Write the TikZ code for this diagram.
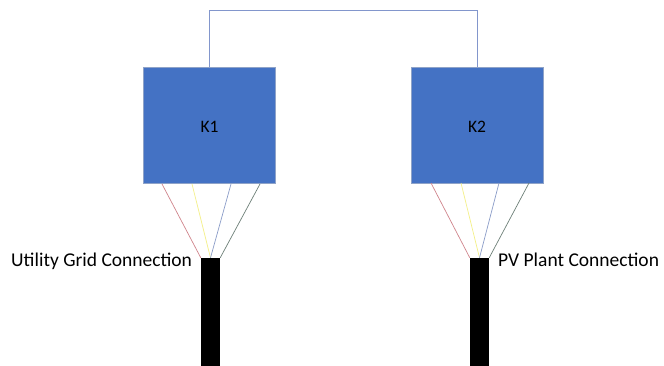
\documentclass[tikz,border=0pt]{standalone}
\usepackage{fontspec}
\setmainfont{Carlito}
\definecolor{boxfill}{HTML}{4472C4}
\definecolor{boxedge}{HTML}{8FA3C8}
\definecolor{linkblue}{HTML}{8296CC}
\definecolor{wred}{HTML}{D0858C}
\definecolor{wyellow}{HTML}{F4F088}
\definecolor{wblue}{HTML}{8A9CC8}
\definecolor{wdark}{HTML}{6E8078}
\tikzset{
  contactor/.style={draw=boxedge,line width=0.8pt,fill=boxfill,inner sep=0pt,minimum width=132pt,minimum height=116pt,font=\fontsize{17.5}{20}\selectfont,text=black},
  cable/.style={draw=none,fill=black,inner sep=0pt,minimum width=19pt,minimum height=108pt},
  lbl/.style={inner sep=0pt,anchor=base west,font=\fontsize{19.5}{22}\selectfont,text=black},
  link/.style={draw=linkblue,line width=0.8pt},
  wire/.style={line width=0.7pt}
}
\begin{document}
\begin{tikzpicture}[x=1pt,y=-1pt]
\useasboundingbox (0,0) rectangle (664,366);
\fill[white] (0,0) rectangle (664,366);
\node[contactor] (k1) at (209.5,125.5) {\raisebox{-1pt}[\height][\depth]{K1}};
\node[contactor] (k2) at (477,125.2) {\raisebox{-2pt}[\height][\depth]{K2}};
\node[cable] (c1) at (210.5,312) {};
\node[cable] (c2) at (479.5,312) {};
\node[lbl] (l1) at (11,266) {Utility Grid Connection};
\node[lbl] (l2) at (498,266) {PV Plant Connection};
\draw[link] (k1.north) -- ++(0,-56.25) -| (k2.north);
\coordinate (k1r) at (162,184);
\coordinate (k1y) at (192,184);
\coordinate (k1b) at (231,184);
\coordinate (k1d) at (260,184);
\coordinate (k2r) at (431,183);
\coordinate (k2y) at (461,183);
\coordinate (k2b) at (499,183);
\coordinate (k2d) at (529,183);
\draw[wire,wred] (k1r) -- (c1.north west);
\draw[wire,wyellow] (k1y) -- (c1.north);
\draw[wire,wblue] (k1b) -- (c1.north);
\draw[wire,wdark] (k1d) -- (c1.north east);
\draw[wire,wred] (k2r) -- (c2.north west);
\draw[wire,wyellow] (k2y) -- (c2.north);
\draw[wire,wblue] (k2b) -- (c2.north);
\draw[wire,wdark] (k2d) -- (c2.north east);
\end{tikzpicture}
\end{document}
